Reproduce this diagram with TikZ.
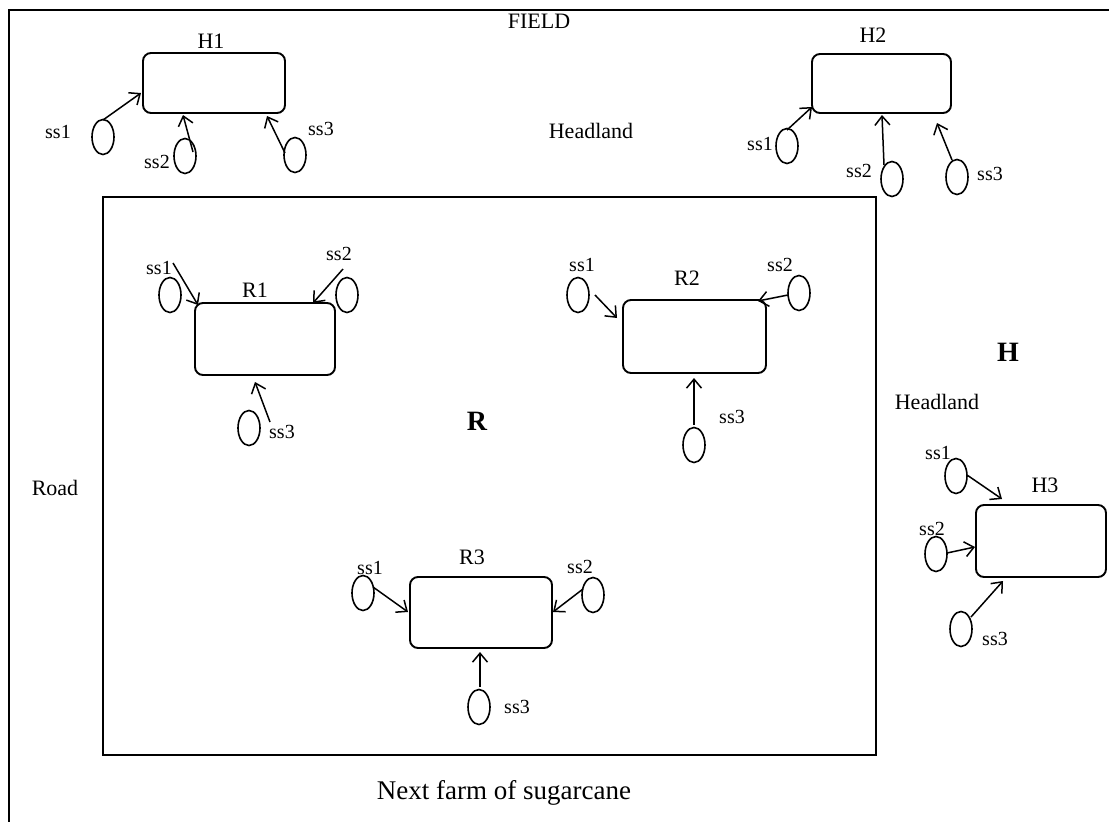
\documentclass[tikz,border=0pt]{standalone}
\usepackage{fontspec}
\setmainfont{Liberation Serif}
\usetikzlibrary{shapes.geometric,arrows.meta,calc}

\begin{document}
\begin{tikzpicture}[x=1pt,y=-1pt,
  frame/.style={line width=2pt},
  unit/.style={draw, line width=1.9pt, rounded corners=8pt, inner sep=0pt},
  sensor/.style={draw, ellipse, line width=1.6pt, inner sep=0pt,
                 minimum width=22pt, minimum height=35pt},
  arr/.style={line width=1.5pt, -{Straight Barb[length=9pt,width=15pt]}},
  sslab/.style={inner sep=0pt, font=\fontsize{20}{22}\selectfont},
  unitlab/.style={inner sep=0pt, font=\fontsize{22}{24}\selectfont},
  arealab/.style={inner sep=0pt, font=\fontsize{22}{24}\selectfont},
  biglab/.style={inner sep=0pt, font=\fontsize{28}{30}\selectfont\bfseries}]

\useasboundingbox (0,0) rectangle (1109,822);
\clip (0,0) rectangle (1109,822);

% field outline (runs off the sheet to the right and bottom)
\draw[frame] (9,840) |- (1130,10);
% inner plot
\draw[frame] (103,197) rectangle (876,755);

% area labels
\node[arealab] (field) at (539,21) {FIELD};
\node[arealab] (hl1) at (591,131) {Headland};
\node[arealab] (hl2) at (937,402) {Headland};
\node[arealab] (road) at (55,488) {Road};
\node[biglab] (bigH) at (1008,352) {H};
\node[biglab] (bigR) at (477,421) {R};
\node[inner sep=0pt, font=\fontsize{27}{29}\selectfont] (next) at (504,793) {Next farm of sugarcane};

% ---------- H1 ----------
\node[unit, minimum width=142pt, minimum height=60pt] (H1) at (214,83) {};
\node[unitlab] (H1l) at (211,41) {H1};
\node[sensor] (H1a) at (103,137) {};
\node[sensor] (H1b) at (185,156) {};
\node[sensor] (H1c) at (295,155) {};
\node[sslab] (H1al) at (58,132) {ss1};
\node[sslab] (H1bl) at (157,162) {ss2};
\node[sslab] (H1cl) at (321,129) {ss3};
\draw[arr] ($(H1a)+(0,-17)$) -- ($(H1)+(-73,10)$);
\draw[arr] ($(H1b)+(8,-4)$) -- ($(H1)+(-31,32)$);
\draw[arr] ($(H1c)+(-10,-2)$) -- ($(H1)+(53,33)$);

% ---------- H2 ----------
\node[unit, minimum width=139pt, minimum height=59pt] (H2) at (881.5,83.5) {};
\node[unitlab] (H2l) at (873,35) {H2};
\node[sensor] (H2a) at (787,146) {};
\node[sensor] (H2b) at (892,179) {};
\node[sensor] (H2c) at (957,177) {};
\node[sslab] (H2al) at (760,144) {ss1};
\node[sslab] (H2bl) at (859,171) {ss2};
\node[sslab] (H2cl) at (990,174) {ss3};
\draw[arr] ($(H2a)+(0,-16)$) -- ($(H2)+(-69.5,23.5)$);
\draw[arr] ($(H2b)+(-8,-14)$) -- ($(H2)+(0.5,31.5)$);
\draw[arr] ($(H2c)+(-5,-17)$) -- ($(H2)+(55.5,39.5)$);

% ---------- R1 ----------
\node[unit, minimum width=140pt, minimum height=72pt] (R1) at (265,339) {};
\node[unitlab] (R1l) at (255,290) {R1};
\node[sensor] (R1a) at (170,295) {};
\node[sensor] (R1b) at (347,295) {};
\node[sensor] (R1c) at (249,428) {};
\node[sslab] (R1al) at (159,268) {ss1};
\node[sslab] (R1bl) at (339,254) {ss2};
\node[sslab] (R1cl) at (282,432) {ss3};
\draw[arr] ($(R1al)+(14,-5)$) -- ($(R1)+(-67,-34)$);
\draw[arr] ($(R1b)+(-4,-26)$) -- ($(R1)+(48,-36)$);
\draw[arr] ($(R1c)+(21,-6)$) -- ($(R1)+(-10,43)$);

% ---------- R2 ----------
\node[unit, minimum width=143pt, minimum height=73pt] (R2) at (694.5,336.5) {};
\node[unitlab] (R2l) at (687,278) {R2};
\node[sensor] (R2a) at (578,295) {};
\node[sensor] (R2b) at (799,293) {};
\node[sensor] (R2c) at (694,445) {};
\node[sslab] (R2al) at (582,265) {ss1};
\node[sslab] (R2bl) at (780,265) {ss2};
\node[sslab] (R2cl) at (732,417) {ss3};
\draw[arr] ($(R2a)+(17,0)$) -- ($(R2)+(-77.5,-18.5)$);
\draw[arr] ($(R2b)+(-11,2)$) -- ($(R2)+(63.5,-35.5)$);
\draw[arr] ($(R2c)+(0,-20)$) -- ($(R2)+(-0.5,41.5)$);

% ---------- R3 ----------
\node[unit, minimum width=142pt, minimum height=71pt] (R3) at (481,612.5) {};
\node[unitlab] (R3l) at (472,557) {R3};
\node[sensor] (R3a) at (363,593) {};
\node[sensor] (R3b) at (593,595) {};
\node[sensor] (R3c) at (479,707) {};
\node[sslab] (R3al) at (370,568) {ss1};
\node[sslab] (R3bl) at (580,567) {ss2};
\node[sslab] (R3cl) at (517,707) {ss3};
\draw[arr] ($(R3a)+(10,-6)$) -- ($(R3)+(-73,-0.5)$);
\draw[arr] ($(R3b)+(-10,-6)$) -- ($(R3)+(72,-0.5)$);
\draw[arr] ($(R3c)+(1,-20)$) -- ($(R3)+(-1,39.5)$);

% ---------- H3 ----------
\node[unit, minimum width=130pt, minimum height=72pt] (H3) at (1041,541) {};
\node[unitlab] (H3l) at (1045,485) {H3};
\node[sensor] (H3a) at (956,476) {};
\node[sensor] (H3b) at (936,554) {};
\node[sensor] (H3c) at (961,629) {};
\node[sslab] (H3al) at (938,453) {ss1};
\node[sslab] (H3bl) at (932,529) {ss2};
\node[sslab] (H3cl) at (995,639) {ss3};
\draw[arr] ($(H3a)+(11,-1)$) -- ($(H3)+(-39,-42)$);
\draw[arr] ($(H3b)+(11,-1)$) -- ($(H3)+(-66,6)$);
\draw[arr] ($(H3c)+(10,-12)$) -- ($(H3)+(-38,40)$);

\end{tikzpicture}
\end{document}
